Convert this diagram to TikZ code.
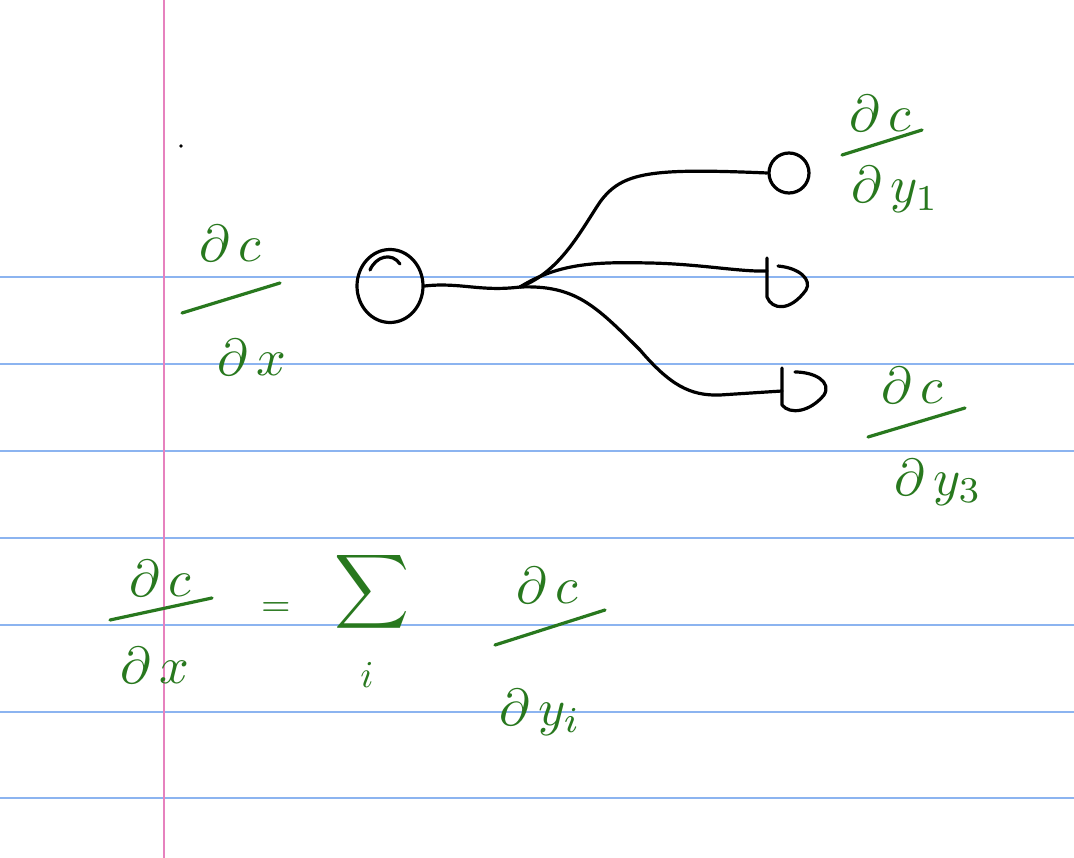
\documentclass[tikz,border=0pt]{standalone}
\usepackage{graphicx}
\usetikzlibrary{calc,shapes.geometric}
\definecolor{ink}{RGB}{40,120,30}
\definecolor{ruleblue}{RGB}{140,180,240}
\definecolor{marginpink}{RGB}{230,130,190}
\newcommand{\hwtxt}[1]{\scalebox{5.2}{#1}}
\newcommand{\hwsml}[1]{\scalebox{3.8}{#1}}
\begin{document}
\begin{tikzpicture}[x=1pt,y=-1pt,
  hw/.style={text=ink,inner sep=0pt},
  fracbar/.style={draw=ink,line width=3.2pt,line cap=round},
  pen/.style={draw=black,line width=3.2pt,line cap=round,line join=round},
  unit/.style={circle,minimum size=#1,inner sep=0pt}]
\useasboundingbox[fill=white] (0,0) rectangle (1074,858);
\foreach \y in {277,364,451,538,625,712,798}
  \draw[ruleblue,line width=1.3pt] (0,\y) -- (1074,\y);
\draw[marginpink,line width=1.3pt] (164,0) -- (164,858);
\fill (181,146) circle (1.8);

% units
\node[ellipse,minimum width=66,minimum height=73,inner sep=0pt,pen] (x) at (390,286) {};
\draw[pen] (370,270) .. controls (376,256) and (392,252) .. (400,264);
\node[unit=40,pen] (y1) at (789,173) {};
\node[unit=46] (y2) at (788,283) {};
\node[unit=46] (y3) at (805,390) {};
\draw[pen,shift={(y2.center)}] (-21,-25) -- (-21,14) .. controls (-16,27) and (2,29) .. (18,7) .. controls (24,-3) and (12,-15) .. (-10,-17);
\draw[pen,shift={(y3.center)}] (-23,-22) -- (-23,15) .. controls (-15,25) and (5,22) .. (19,5) .. controls (27,-8) and (10,-18) .. (-10,-18);

% connectors
\coordinate (j) at (520,287);
\draw[pen] (x.east) .. controls (460,282) and (480,292) .. (j);
\draw[pen] (j) .. controls (560,272) and (580,232) .. (600,202) .. controls (622,172) and (650,168) .. (y1.west);
\draw[pen] (j) .. controls (560,262) and (600,262) .. (650,263) .. controls (700,264) and (740,272) .. ($(y2.center)+(-21,-12)$);
\draw[pen] (j) .. controls (575,285) and (595,305) .. (640,350) .. controls (670,385) and (690,396) .. (720,395) -- ($(y3.center)+(-23,1)$);

% labels
\node[hw] (xn) at (230,243) {\hwtxt{$\partial\,c$}};
\draw[fracbar] (182,313) -- (280,283);
\node[hw] (xd) at (252,357) {\hwtxt{$\partial\,x$}};

\node[hw] (y1n) at (880,113) {\hwtxt{$\partial\,c$}};
\draw[fracbar] (842,155) -- (922,130);
\node[hw] (y1d) at (895,190) {\hwtxt{$\partial\,y_1$}};

\node[hw] (y3n) at (912,385) {\hwtxt{$\partial\,c$}};
\draw[fracbar] (868,437) -- (965,408);
\node[hw] (y3d) at (938,482) {\hwtxt{$\partial\,y_3$}};

% equation
\node[hw] (en) at (160,578) {\hwtxt{$\partial\,c$}};
\draw[fracbar] (110,620) -- (212,598);
\node[hw] (ed) at (155,665) {\hwtxt{$\partial\,x$}};
\node[hw] (eq) at (276,610) {\hwsml{$=$}};
\node[hw] (sum) at (372,592) {\hwtxt{$\displaystyle\sum$}};
\node[hw] (si) at (367,675) {\hwsml{$i$}};
\node[hw] (rn) at (547,585) {\hwtxt{$\partial\,c$}};
\draw[fracbar] (495,645) -- (605,610);
\node[hw] (rd) at (540,712) {\hwtxt{$\partial\,y_i$}};
\end{tikzpicture}
\end{document}
